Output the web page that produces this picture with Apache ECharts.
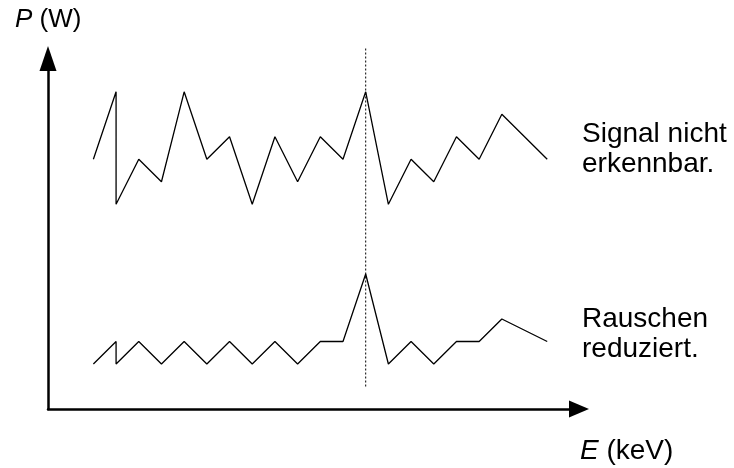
<!DOCTYPE html>
<html>
<head>
<meta charset="utf-8">
<script src="https://cdn.jsdelivr.net/npm/echarts@6/dist/echarts.min.js"></script>
<style>
  html, body { margin: 0; padding: 0; background: #fff; }
  #chart { width: 734px; height: 468px; }
</style>
</head>
<body>
<div id="chart"></div>
<script>
// Energy channel positions (channel 1 carries a vertical jump, channel 19 is skipped)
const energyChannels = [0, 1, 1, 2, 3, 4, 5, 6, 7, 8, 9, 10, 11, 12, 13, 14, 15, 16, 17, 18, 20];

// Raw spectrum: noise swamps the line
const rawPower = [9.1, 12.1, 7.1, 9.1, 8.1, 12.1, 9.1, 10.1, 7.1, 10.1, 8.1,
                  10.1, 9.1, 12.1, 7.1, 9.1, 8.1, 10.1, 9.1, 11.1, 9.1];

// Filtered spectrum: noise reduced, the line stands out
const filteredPower = [0, 1, 0, 1, 0, 1, 0, 1, 0, 1, 0,
                       1, 1, 4, 0, 1, 0, 1, 1, 2, 1];

// Position of the signal line and the span of its marker
const signalChannel = 12;
const markerSpan = [-1, 14.1];

const labels = {
  yAxis: '{i|P} (W)',
  xAxis: '{i|E} (keV)',
  raw: 'Signal nicht\nerkennbar.',
  filtered: 'Rauschen\nreduziert.'
};

const FONT = 'Liberation Sans, Arial, sans-serif';

const toPairs = (xs, ys) => xs.map((x, i) => [x, ys[i]]);

const chart = echarts.init(document.getElementById('chart'), null, { renderer: 'canvas' });

const axisStyle = { color: '#000', width: 2.5 };

const textStyle = (text, size, extra) => Object.assign({
  text: text, font: size + 'px ' + FONT, fill: '#000',
  rich: { i: { fontStyle: 'italic', fontSize: size, fontFamily: FONT } }
}, extra || {});

chart.setOption({
  animation: false,
  backgroundColor: '#fff',
  grid: { left: 48, right: 155, top: 58.5, bottom: 59 },
  xAxis: {
    type: 'value', min: -2, max: 21.4,
    axisLine: { show: true, onZero: false, lineStyle: axisStyle,
                symbol: ['none', 'triangle'], symbolSize: [17, 20] },
    axisTick: { show: false }, axisLabel: { show: false }, splitLine: { show: false }
  },
  yAxis: {
    type: 'value', min: -2, max: 13.58,
    axisLine: { show: true, onZero: false, lineStyle: axisStyle,
                symbol: ['none', 'triangle'], symbolSize: [17, 25] },
    axisTick: { show: false }, axisLabel: { show: false }, splitLine: { show: false }
  },
  series: [
    {
      type: 'line', data: toPairs(energyChannels, rawPower),
      showSymbol: false, lineStyle: { color: '#000', width: 1.3 }
    },
    {
      type: 'line', data: toPairs(energyChannels, filteredPower),
      showSymbol: false, lineStyle: { color: '#000', width: 1.3 }
    },
    {
      type: 'line', clip: false,
      data: markerSpan.map(v => [signalChannel, v]),
      showSymbol: false, lineStyle: { color: '#000', width: 1, type: [2, 2] }
    }
  ],
  graphic: [
    { type: 'text', left: 15, top: 7, style: textStyle(labels.yAxis, 26) },
    { type: 'text', left: 580, top: 437, style: textStyle(labels.xAxis, 28) },
    { type: 'text', left: 582, top: 119, style: textStyle(labels.raw, 28, { lineHeight: 30 }) },
    { type: 'text', left: 582, top: 304, style: textStyle(labels.filtered, 28, { lineHeight: 30 }) }
  ]
});
</script>
</body>
</html>
